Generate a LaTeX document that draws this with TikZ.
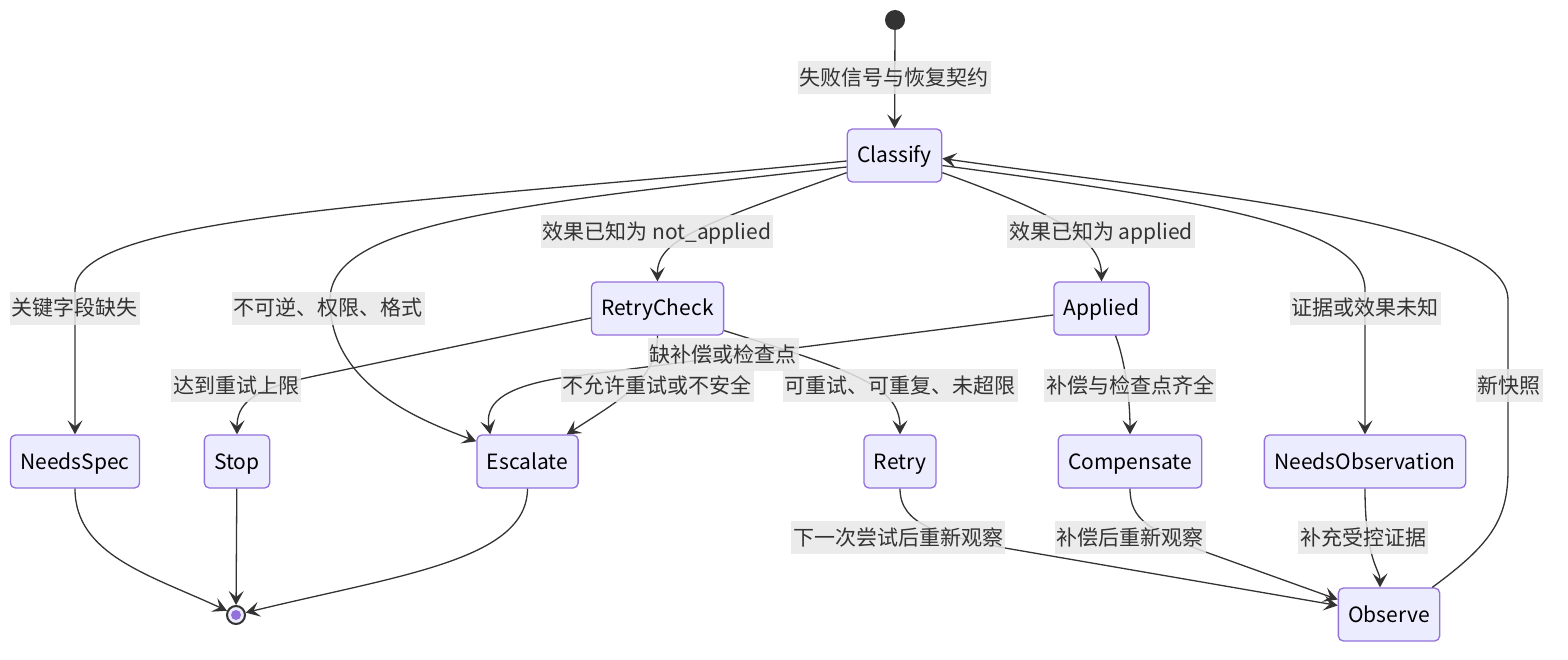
\documentclass[tikz,border=0pt]{standalone}
\usepackage{fontspec}
\usepackage{tikz}
\usetikzlibrary{arrows.meta}
\newfontfamily\cjk{Noto Sans CJK SC}
\definecolor{boxfill}{HTML}{ECECFF}
\definecolor{boxline}{HTML}{9370DB}
\definecolor{ink}{HTML}{333333}
\definecolor{lblfill}{HTML}{E8E8E8}

\begin{document}
\begin{tikzpicture}[x=1pt,y=-1pt,
  font=\cjk\fontsize{21}{25}\selectfont,
  state/.style={draw=boxline,fill=boxfill,line width=1.3pt,rounded corners=5pt,minimum height=53pt,inner xsep=10pt,
    text height=19pt,text depth=4pt,text=black},
  lbl/.style={fill=lblfill,fill opacity=0.85,text opacity=1,text=ink,inner xsep=2pt,inner ysep=0pt,minimum height=33pt,
    text height=18pt,text depth=2pt},
  edge/.style={draw=ink,line width=1.3pt,-{Stealth[length=14pt,width=15pt,inset=6pt]}}]
\useasboundingbox (0,0) rectangle (1568,660);

\node[circle,fill=ink,minimum size=20pt,inner sep=0pt] (start) at (895,20) {};
\node[state] (classify) at (894.5,155.5) {Classify};
\node[state] (retrycheck) at (657.5,308.5) {RetryCheck};
\node[state] (applied) at (1101.5,308.5) {Applied};
\node[state] (needsspec) at (75,461.5) {NeedsSpec};
\node[state] (stop) at (237,461.5) {Stop};
\node[state] (escalate) at (527.5,461.5) {Escalate};
\node[state] (retry) at (900,461.5) {Retry};
\node[state] (compensate) at (1130,461.5) {Compensate};
\node[state] (needsobs) at (1365,461.5) {NeedsObservation};
\node[state] (observe) at (1389,614.5) {Observe};
\node[circle,draw=ink,line width=2pt,fill=boxfill,minimum size=18pt,inner sep=0pt] (end) at (236,615) {};
\fill[boxline] (end) circle (5);

\draw[edge] (start) -- (classify);
\draw[edge] ([yshift=-5.5pt]classify.west) .. controls (400,205) and (75,215) .. (75,290) -- (needsspec);
\draw[edge] ([yshift=-11.5pt]classify.west) .. controls (500,205) and (330,225) .. (330,300)
  .. controls (330,385) and (420,420) .. ([yshift=-7pt]escalate.north west);
\draw[edge] ([yshift=10pt]classify.south west) .. controls (700,225) and (657,240) .. (retrycheck.north);
\draw[edge] ([yshift=10pt]classify.south east) .. controls (1060,215) and (1101,240) .. (applied.north);
\draw[edge] ([yshift=-10pt]classify.east) .. controls (1200,200) and (1365,225) .. (1365,290) -- (needsobs);
\draw[edge] ([xshift=-8pt]observe.north east) .. controls (1490,545) and (1508,520) .. (1508,470) -- (1508,300)
  .. controls (1508,220) and (1200,195) .. ([yshift=-3pt]classify.east);

\draw[edge] ([yshift=-9.5pt]retrycheck.west) -- (310,377) .. controls (250,390) and (237,405) .. (stop.north);
\draw[edge] (retrycheck.south) .. controls (657,380) and (620,400) .. ([xshift=-12pt]escalate.north east);
\draw[edge] ([yshift=5pt]retrycheck.south east) .. controls (850,370) and (900,385) .. (retry.north);
\draw[edge] ([xshift=14pt]applied.south) .. controls (1125,360) and (1130,400) .. (compensate.north);
\draw[edge] ([yshift=-6.5pt]applied.west) -- (560,378) .. controls (500,388) and (485,405) .. ([xshift=14pt]escalate.north west);

\draw[edge] (needsspec.south) .. controls (75,555) and (150,575) .. (end);
\draw[edge] (stop) -- (end);
\draw[edge] (escalate.south) .. controls (527,560) and (400,575) .. (end);

\draw[edge] (retry.south) .. controls (900,525) and (940,535) .. (1005,548) -- ([yshift=9pt]observe.west);
\draw[edge] (compensate.south) .. controls (1130,520) and (1150,530) .. (1200,550) -- ([yshift=15pt]observe.west);
\draw[edge] (needsobs.south) .. controls (1365,560) and (1380,570) .. ([xshift=-9pt]observe.north);

\node[lbl] (lstart) at (894,78) {失败信号与恢复契约};
\node[lbl] (lspec) at (75,308) {关键字段缺失};
\node[lbl] (lesc) at (328,308) {不可逆、权限、格式};
\node[lbl] (lnot) at (657,232) {效果已知为 not\_applied};
\node[lbl] (lapp) at (1101,232) {效果已知为 applied};
\node[lbl] (lunk) at (1365,308) {证据或效果未知};
\node[lbl] (lsnap) at (1509,385) {新快照};
\node[lbl] (llimit) at (236,385) {达到重试上限};
\node[lbl] (lunsafe) at (657,385) {不允许重试或不安全};
\node[lbl] (lretry) at (900,385) {可重试、可重复、未超限};
\node[lbl] (lmiss) at (723,354) {缺补偿或检查点};
\node[lbl] (lfull) at (1130,385) {补偿与检查点齐全};
\node[lbl] (lnext) at (898,537) {下一次尝试后重新观察};
\node[lbl] (lcomp) at (1130,537) {补偿后重新观察};
\node[lbl] (lev) at (1363,537) {补充受控证据};
\end{tikzpicture}
\end{document}
